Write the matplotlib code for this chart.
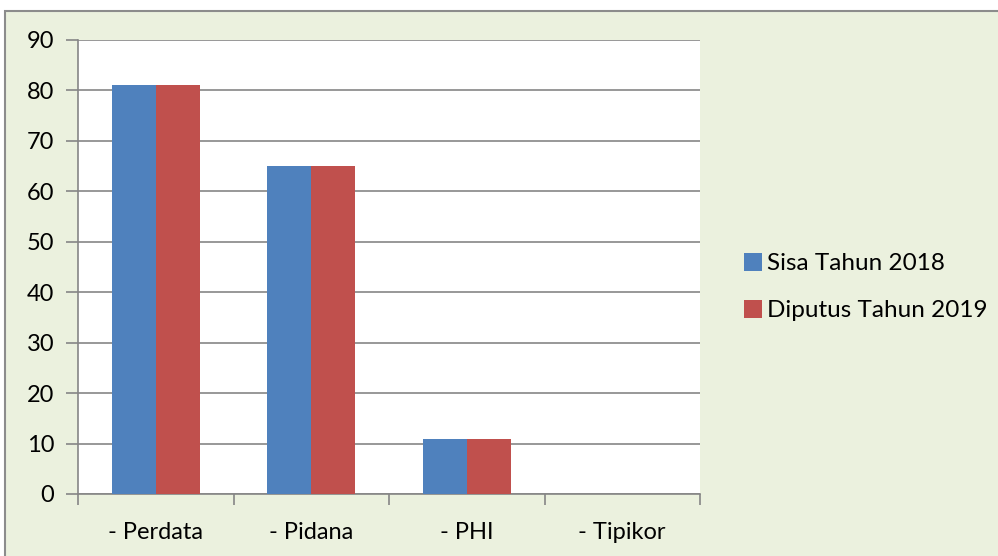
import matplotlib.pyplot as plt
import numpy as np
from matplotlib.patches import Rectangle

categories = ["- Perdata", "- Pidana", "- PHI", "- Tipikor"]
sisa_2018 = [81, 65, 11, 0]
diputus_2019 = [81, 65, 11, 0]
series_labels = ["Sisa Tahun 2018", "Diputus Tahun 2019"]
y_ticks = list(range(0, 100, 10))

BLUE = "#4F81BD"
RED = "#C0504D"
GRID = "#868686"
PANEL = "#EBF1DE"

plt.rcParams["font.family"] = ["Lato", "DejaVu Sans"]

W, H = 998, 556
fig = plt.figure(figsize=(W / 100, H / 100), dpi=100, facecolor="white")

# chart panel with grey border
fig.patches.append(Rectangle((5 / W, -0.02), 1.05, 1 - 11 / H + 0.02,
                             transform=fig.transFigure, facecolor=PANEL,
                             edgecolor="#8C8C8C", linewidth=1.5, zorder=-5))

ax = fig.add_axes([78 / W, 1 - 494 / H, (700 - 78) / W, (494 - 40) / H])
ax.set_zorder(2)
ax.set_facecolor("white")

x = np.arange(len(categories))
w = 0.283
ax.bar(x - w / 2, sisa_2018, width=w, color=BLUE, label=series_labels[0], zorder=3)
ax.bar(x + w / 2, diputus_2019, width=w, color=RED, label=series_labels[1], zorder=3)

ax.set_xlim(-0.5, len(categories) - 0.5)
ax.set_ylim(0, 90)
ax.set_yticks(y_ticks)
ax.set_yticklabels([str(v) for v in y_ticks], fontsize=17)
ax.yaxis.grid(True, color=GRID, linewidth=1.2, zorder=1)
ax.set_axisbelow(True)

ax.set_xticks(x)
ax.set_xticklabels(categories, fontsize=17)
ax.tick_params(axis="x", length=0, pad=20)
ax.set_xticks(np.arange(-0.5, len(categories)), minor=True)
ax.tick_params(axis="x", which="minor", length=8, color=GRID, width=1.2, direction="out")
ax.tick_params(axis="y", length=9, color=GRID, width=1.2, direction="out", pad=8)

for side in ["top", "right"]:
    ax.spines[side].set_visible(False)
for side in ["left", "bottom"]:
    ax.spines[side].set_color(GRID)
    ax.spines[side].set_linewidth(1.2)

leg = fig.legend(loc="center left", bbox_to_anchor=(722 / W, 1 - 287 / H),
                 frameon=False, fontsize=17.5, handlelength=0.75, handleheight=0.75,
                 handletextpad=0.2, labelspacing=1.05)

fig.savefig("out.png", dpi=100, facecolor="white")
